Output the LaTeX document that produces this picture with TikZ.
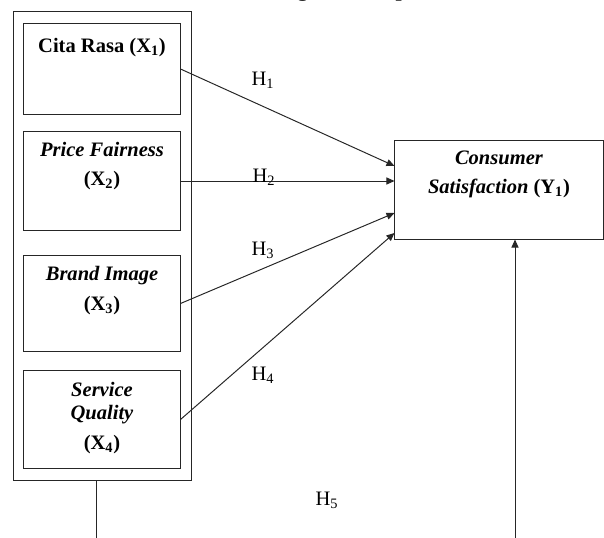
\documentclass[tikz,border=0pt]{standalone}
\usepackage{fontspec}
\setmainfont{Liberation Serif}
\usepackage{tikz}
\usetikzlibrary{arrows.meta, positioning}

\tikzset{
  boxline/.style={draw=black!85, line width=0.7pt},
  varbox/.style={boxline, inner sep=0pt, minimum width=3.9cm},
  vartext/.style={inner sep=0pt, align=center, font=\fontsize{14.6}{16.5}\selectfont\bfseries},
  hyp/.style={inner sep=0pt, font=\fontsize{14.6}{16.5}\selectfont},
  path/.style={draw=black!85, line width=0.7pt, -{Triangle[length=2mm, width=1.75mm]}}
}

\begin{document}
\begin{tikzpicture}[x=0.025cm, y=-0.025cm]
        \useasboundingbox (0,0) rectangle (604,538);

        \node[anchor=base, inner sep=0pt, font=\fontsize{15.6}{18}\selectfont\bfseries] (title) at (341,-3) {Kerangka Konseptual};

        \node[boxline, inner sep=0pt, minimum width=4.425cm, minimum height=11.7cm] (outer) at (102.5,246) {};
        \node[varbox, minimum height=2.25cm] (cita) at (102,69) {};
        \node[varbox, minimum height=2.45cm] (price) at (102,181) {};
        \node[varbox, minimum height=2.375cm] (brand) at (102,303.5) {};
        \node[varbox, minimum height=2.425cm] (service) at (102,419.5) {};
        \node[boxline, inner sep=0pt, minimum width=5.2cm, minimum height=2.45cm] (cs) at (499,190) {};

        \node[vartext] (citaT) at (102,48) {Cita Rasa (X\textsubscript{1})};
        \node[vartext] (priceT) at (102,166) {\textit{Price Fairness}\\[4.5pt](X\textsubscript{2})};
        \node[vartext] (brandT) at (102,290.5) {\textit{Brand Image}\\[4.5pt](X\textsubscript{3})};
        \node[vartext] (serviceT) at (102,418) {\textit{Service}\\\textit{Quality}\\[4.5pt](X\textsubscript{4})};
        \node[vartext] (csT) at (499,174.5) {\textit{Consumer}\\[4.5pt]\textit{Satisfaction} (Y\textsubscript{1})};

        \coordinate (H5left) at (96,560);
        \coordinate (H5right) at (515,560);

        \draw[path] (cita.east) -- ([yshift=0.6cm]cs.west);
        \draw[path] (price.east) -- (price.east -| cs.west);
        \draw[path] (brand.east) -- ([yshift=-0.575cm]cs.west);
        \draw[path] (service.east) -- ([yshift=-1.075cm]cs.west);
        \draw[path] (outer.south -| H5left) -- (H5left) -- (H5right) -- (cs.south -| H5right);

        \node[hyp] (h1) at (263,80) {H\textsubscript{1}};
        \node[hyp] (h2) at (264,177) {H\textsubscript{2}};
        \node[hyp] (h3) at (263,250) {H\textsubscript{3}};
        \node[hyp] (h4) at (263,375) {H\textsubscript{4}};
        \node[hyp] (h5) at (327,500) {H\textsubscript{5}};
\end{tikzpicture}
\end{document}
